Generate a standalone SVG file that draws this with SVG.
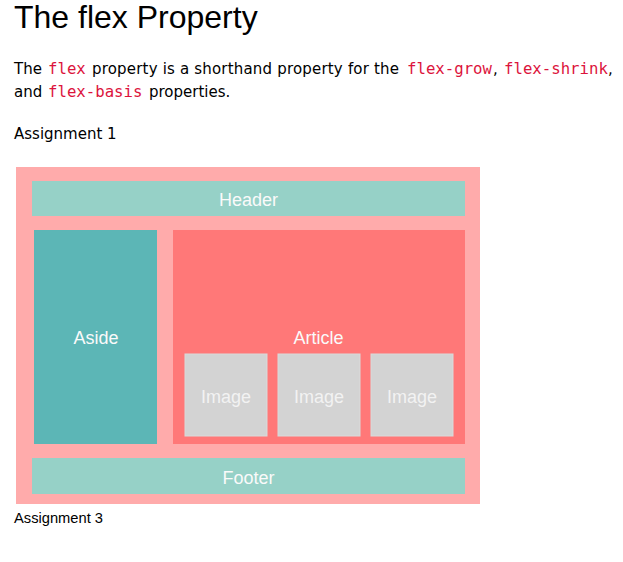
<svg xmlns="http://www.w3.org/2000/svg" width="623" height="562" viewBox="0 0 623 562">
  <style>
    .body { font-family: "DejaVu Sans", Verdana, sans-serif; font-size: 15px; fill: #000; }
    .code { font-family: "DejaVu Sans Mono", "Liberation Mono", monospace; font-size: 15.7px; fill: #dc143c; }
    .lbl { font-family: "Liberation Sans", Arial, Helvetica, sans-serif; font-size: 18px; fill: #fafafa; text-anchor: middle; }
    .img-lbl { fill: #f2f2f2; }
  </style>
  <rect width="623" height="562" fill="#ffffff"/>

  <!-- page heading and intro text -->
  <text x="14" y="28" font-family="Liberation Sans, Arial, sans-serif" font-size="32" fill="#000">The flex Property</text>
  <text class="body" x="14" y="74">The</text>
  <text class="code" x="48" y="74">flex</text>
  <text class="body" x="92" y="74" textLength="307">property is a shorthand property for the</text>
  <text class="code" x="407" y="74">flex-grow</text>
  <text class="body" x="493" y="74">,</text>
  <text class="code" x="504" y="74">flex-shrink</text>
  <text class="body" x="608" y="74">,</text>
  <text class="body" x="14" y="97">and</text>
  <text class="code" x="48" y="97">flex-basis</text>
  <text class="body" x="149" y="97">properties.</text>
  <text class="body" x="14" y="139">Assignment 1</text>

  <!-- layout mock-up -->
  <g id="container">
    <rect x="16" y="167" width="464" height="337" fill="#ffabab"/>
  </g>
  <g id="header">
    <rect x="32" y="181" width="433" height="35" fill="#96d1c7"/>
    <text class="lbl" x="248.5" y="206">Header</text>
  </g>
  <g id="aside">
    <rect x="34" y="230" width="123" height="214" fill="#5cb6b6"/>
    <text class="lbl" x="96" y="344">Aside</text>
  </g>
  <g id="article">
    <rect x="173" y="230" width="292" height="214" fill="#ff7878"/>
    <text class="lbl" x="318.5" y="344">Article</text>
  </g>
  <g id="image1">
    <rect x="185" y="354" width="82" height="82" fill="#d3d3d3" stroke="#dadada" stroke-width="1"/>
    <text class="lbl img-lbl" x="226" y="403">Image</text>
  </g>
  <g id="image2">
    <rect x="278" y="354" width="82" height="82" fill="#d3d3d3" stroke="#dadada" stroke-width="1"/>
    <text class="lbl img-lbl" x="319" y="403">Image</text>
  </g>
  <g id="image3">
    <rect x="371" y="354" width="82" height="82" fill="#d3d3d3" stroke="#dadada" stroke-width="1"/>
    <text class="lbl img-lbl" x="412" y="403">Image</text>
  </g>
  <g id="footer">
    <rect x="32" y="458" width="433" height="36" fill="#96d1c7"/>
    <text class="lbl" x="248.5" y="484">Footer</text>
  </g>
  <g id="connectors"/>

  <text x="14" y="523" font-family="Liberation Sans, Arial, sans-serif" font-size="14.7" fill="#000">Assignment 3</text>
</svg>
